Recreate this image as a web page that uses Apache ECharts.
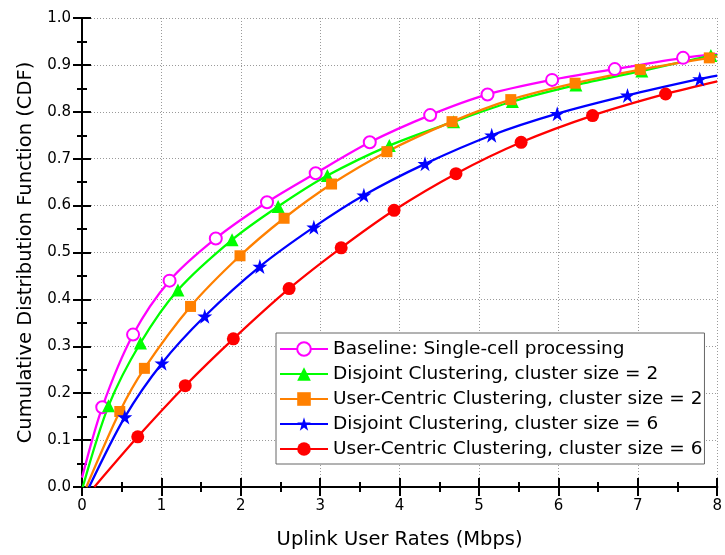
<!DOCTYPE html>
<html>
<head>
<meta charset="utf-8">
<title>Uplink user rate CDF</title>
<script src="https://cdn.jsdelivr.net/npm/echarts@6/dist/echarts.min.js"></script>
<style>
  html, body { margin: 0; padding: 0; background: #fff; }
  #chart { width: 725px; height: 555px; }
</style>
</head>
<body>
<div id="chart"></div>
<script>
// Rate (Mbps) / CDF samples per scheme. The first and last entries are the
// curve ends; every entry in between carries a marker.
const baselineX = [0.0, 0.255, 0.643, 1.103, 1.685, 2.33, 2.943, 3.624, 4.385, 5.107, 5.92, 6.71, 7.57, 8.0];
const baselineY = [0.02, 0.170, 0.325, 0.440, 0.530, 0.607, 0.669, 0.735, 0.793, 0.837, 0.868, 0.891, 0.915, 0.923];

const disjoint2X = [0.01, 0.334, 0.736, 1.208, 1.89, 2.47, 3.09, 3.87, 4.68, 5.42, 6.22, 7.05, 7.92, 8.0];
const disjoint2Y = [0.0, 0.173, 0.307, 0.420, 0.527, 0.598, 0.664, 0.728, 0.779, 0.822, 0.857, 0.887, 0.920, 0.921];

const userCentric2X = [0.055, 0.476, 0.786, 1.367, 1.99, 2.545, 3.143, 3.84, 4.66, 5.40, 6.21, 7.03, 7.90, 8.0];
const userCentric2Y = [0.0, 0.161, 0.253, 0.385, 0.493, 0.573, 0.646, 0.715, 0.779, 0.826, 0.861, 0.890, 0.915, 0.918];

const disjoint6X = [0.09, 0.539, 1.007, 1.546, 2.24, 2.92, 3.55, 4.32, 5.16, 5.985, 6.87, 7.78, 8.0];
const disjoint6Y = [0.0, 0.149, 0.264, 0.364, 0.470, 0.554, 0.622, 0.689, 0.750, 0.796, 0.835, 0.870, 0.877];

const userCentric6X = [0.155, 0.702, 1.30, 1.906, 2.608, 3.264, 3.93, 4.71, 5.53, 6.43, 7.35, 8.0];
const userCentric6Y = [0.0, 0.107, 0.216, 0.316, 0.423, 0.510, 0.590, 0.668, 0.735, 0.792, 0.838, 0.865];

const seriesNames = [
  'Baseline: Single-cell processing',
  'Disjoint Clustering, cluster size = 2',
  'User-Centric Clustering, cluster size = 2',
  'Disjoint Clustering, cluster size = 6',
  'User-Centric Clustering, cluster size = 6'
];

const xTicks = [0, 1, 2, 3, 4, 5, 6, 7, 8];
const yTicks = [0.0, 0.1, 0.2, 0.3, 0.4, 0.5, 0.6, 0.7, 0.8, 0.9, 1.0];

const FONT = 'DejaVu Sans';
const STAR = 'path://M50,2 L61.2,36.4 L97.6,36.4 L68.2,57.6 L79.4,92 L50,70.8 L20.6,92 L31.8,57.6 L2.4,36.4 L38.8,36.4 Z';

// Pair up x/y arrays; the two curve ends are drawn without a marker.
function toPoints(xs, ys) {
  return xs.map((x, i) => {
    const item = { value: [x, ys[i]] };
    if (i === 0 || i === xs.length - 1) item.symbol = 'none';
    return item;
  });
}

function curve(name, xs, ys, color, symbol, size, extra) {
  return Object.assign({
    name: name,
    type: 'line',
    data: toPoints(xs, ys),
    smooth: 0.3,
    symbol: symbol,
    symbolSize: size,
    showAllSymbol: true,
    lineStyle: { color: color, width: 2.3 },
    itemStyle: { color: color },
    emphasis: { disabled: true },
    xAxisIndex: 0,
    yAxisIndex: 0,
    clip: true
  }, extra || {});
}

const frameAxisLine = { show: true, lineStyle: { color: '#000', width: 2 } };
const gridDots = { show: true, lineStyle: { color: '#9a9a9a', width: 1, type: [1, 2] } };

function xAxisDef(pos, withLabels) {
  return {
    type: 'value', position: pos,
    min: xTicks[0], max: xTicks[xTicks.length - 1], interval: 1,
    axisLine: frameAxisLine,
    axisTick: { show: true, inside: true, length: 9, lineStyle: { color: '#000', width: 2 } },
    minorTick: { show: true, splitNumber: 2, length: 5, lineStyle: { color: '#000', width: 2 } },
    axisLabel: {
      show: withLabels, margin: 12, fontFamily: FONT, fontSize: 15, color: '#000',
      formatter: v => String(v)
    },
    splitLine: withLabels ? gridDots : { show: false },
    name: withLabels ? 'Uplink User Rates (Mbps)' : '',
    nameLocation: 'middle', nameGap: 43,
    nameTextStyle: { fontFamily: FONT, fontSize: 19.5, color: '#000' }
  };
}

function yAxisDef(pos, withLabels) {
  return {
    type: 'value', position: pos,
    min: yTicks[0], max: yTicks[yTicks.length - 1], interval: 0.1,
    axisLine: frameAxisLine,
    axisTick: { show: true, inside: true, length: 9, lineStyle: { color: '#000', width: 2 } },
    minorTick: { show: true, splitNumber: 2, length: 5, lineStyle: { color: '#000', width: 2 } },
    axisLabel: {
      show: withLabels, margin: 11, fontFamily: FONT, fontSize: 15, color: '#000',
      formatter: v => v.toFixed(1)
    },
    splitLine: withLabels ? gridDots : { show: false },
    name: withLabels ? 'Cumulative Distribution Function (CDF)' : '',
    nameLocation: 'middle', nameGap: 41,
    nameTextStyle: { fontFamily: FONT, fontSize: 19.5, color: '#000' }
  };
}

const chart = echarts.init(document.getElementById('chart'), null, { renderer: 'canvas' });

chart.setOption({
  animation: false,
  backgroundColor: '#fff',
  grid: { left: 82, right: 5, top: 18, bottom: 68, containLabel: false },
  xAxis: [xAxisDef('bottom', true), xAxisDef('top', false)],
  yAxis: [yAxisDef('left', true), yAxisDef('right', false)],
  legend: {
    orient: 'vertical',
    left: 276, top: 333,
    padding: [6, 2, 5, 3],
    itemWidth: 48, itemHeight: 17, itemGap: 5,
    backgroundColor: '#fff',
    borderColor: '#666', borderWidth: 1, borderRadius: 0,
    textStyle: { fontFamily: FONT, fontSize: 18.5, color: '#000', lineHeight: 20 },
    data: seriesNames,
    selectedMode: false
  },
  series: [
    curve(seriesNames[0], baselineX, baselineY, '#ff00ff', 'emptyCircle', 12,
      { itemStyle: { color: '#ff00ff', borderWidth: 1.2 } }),
    curve(seriesNames[1], disjoint2X, disjoint2Y, '#00ff00', 'triangle', 13),
    curve(seriesNames[2], userCentric2X, userCentric2Y, '#ff8000', 'rect', 11),
    curve(seriesNames[3], disjoint6X, disjoint6Y, '#0000ff', STAR, 15),
    curve(seriesNames[4], userCentric6X, userCentric6Y, '#ff0000', 'circle', 13)
  ]
});
</script>
</body>
</html>
